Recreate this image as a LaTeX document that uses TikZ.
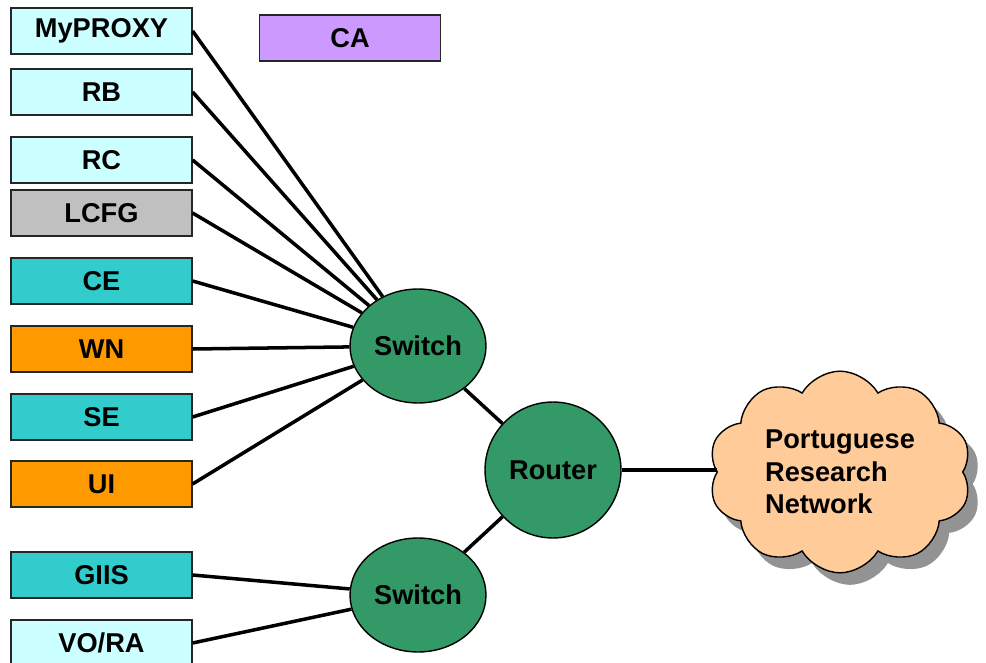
\documentclass[tikz,border=0pt]{standalone}
\usepackage{fontspec}
\setmainfont{Liberation Sans}
\usetikzlibrary{shapes.geometric,shapes.symbols,shadows}
\definecolor{paleblue}{HTML}{CCFFFF}
\definecolor{silver}{HTML}{C0C0C0}
\definecolor{teal}{HTML}{33CCCC}
\definecolor{amber}{HTML}{FF9900}
\definecolor{lilac}{HTML}{CC99FF}
\definecolor{seagreen}{HTML}{339966}
\definecolor{peach}{HTML}{FFCC99}
\tikzset{
  label font/.style={font=\fontsize{15.5}{18}\selectfont\bfseries},
  host/.style={draw=black!85, line width=0.7pt, minimum width=3.62cm,
    minimum height=0.92cm, inner sep=0pt, label font},
  switch/.style={ellipse, draw, fill=seagreen, line width=0.8pt,
    minimum width=2.72cm, minimum height=2.28cm, inner sep=0pt, label font},
  router/.style={circle, draw, fill=seagreen, line width=0.8pt,
    minimum size=2.72cm, inner sep=0pt, label font},
  link/.style={line width=2pt}
}
\begin{document}
\begin{tikzpicture}[x=0.02cm, y=-0.02cm]
  \useasboundingbox (0,0) rectangle (986,662);
  % Rechner auf der linken Seite
  \foreach \nodename/\ypos/\col/\txt in {proxy/31/paleblue/MyPROXY, rb/92/paleblue/RB,
      rc/160/paleblue/RC, lcfg/213/silver/LCFG, ce/281/teal/CE, wn/349/amber/WN,
      se/417/teal/SE, ui/484/amber/UI, giis/575/teal/GIIS, vora/643/paleblue/{VO/RA}}
    \node[host, fill=\col] (\nodename) at (101.5,\ypos) {\txt};
  \node[host, fill=lilac] (ca) at (350,38) {CA};

  % Netzwerk
  \node[switch] (sw1) at (418,346) {Switch};
  \node[switch] (sw2) at (418,595) {Switch};
  \node[router] (router) at (553,470) {Router};
  \node[cloud, cloud puffs=10, cloud puff arc=120, aspect=1.35, draw, fill=peach,
    line width=0.8pt, minimum width=5.26cm, minimum height=3.9cm, align=left,
    font=\fontsize{15.5}{18.5}\selectfont\bfseries,
    drop shadow={shadow xshift=0.2cm, shadow yshift=-0.24cm, fill=gray!85, opacity=1}]
    (prn) at (840,472) {Portuguese\\Research\\Network};

  \foreach \startnode in {proxy, rb, rc, lcfg, ce, wn, se, ui}
    \draw[link] (\startnode.east) -- (sw1);
  \foreach \startnode in {giis, vora}
    \draw[link] (\startnode.east) -- (sw2);
  \foreach \startnode in {sw1, sw2}
    \draw[link] (\startnode) -- (router);
  \draw[link] (router.east) -- (router.east -| prn.west);
\end{tikzpicture}
\end{document}
